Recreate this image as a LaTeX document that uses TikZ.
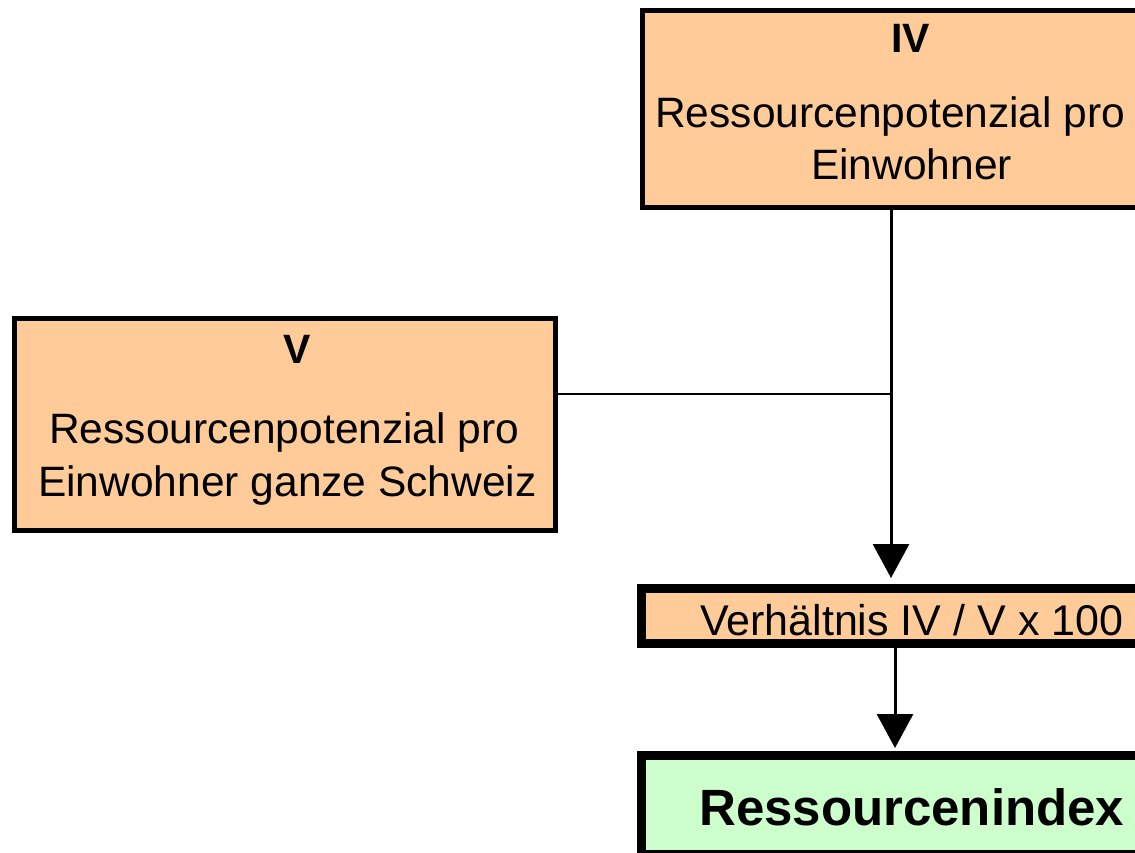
\documentclass[tikz,border=0pt]{standalone}
\usepackage{fontspec}
\setmainfont{Liberation Sans}
\usetikzlibrary{arrows.meta}
\definecolor{boxorange}{HTML}{FFCC99}
\definecolor{boxgreen}{HTML}{CCFFCC}
\tikzset{
  thinbox/.style={draw=black, fill=boxorange, line width=5pt, inner sep=0pt, outer sep=0pt, rectangle},
  thickbox/.style={draw=black, line width=9pt, inner sep=0pt, outer sep=0pt, rectangle},
  normtext/.style={anchor=base west, inner sep=0pt, font=\fontsize{42.5}{50}\selectfont},
  headtext/.style={anchor=base west, inner sep=0pt, font=\fontsize{41}{48}\selectfont\bfseries},
  conn/.style={line width=3pt},
  arrowconn/.style={line width=3pt, -{Triangle[width=36pt,length=34pt]}}
}
\begin{document}
\begin{tikzpicture}[x=1pt,y=-1pt]
\clip (0,0) rectangle (1135,853);
\fill[white] (0,0) rectangle (1135,853);
% boxes
\node[thinbox, minimum width=537.5pt, minimum height=197pt] (iv) at (911.25,109) {};
\node[thinbox, minimum width=541pt, minimum height=212pt] (v) at (285,424.5) {};
\node[thickbox, fill=boxorange, minimum width=538.5pt, minimum height=55pt] (verh) at (910.75,616) {};
\node[thickbox, fill=boxgreen, minimum width=538.5pt, minimum height=99pt] (res) at (910.75,805) {};
% texts
\node[headtext] (ivh) at (891,53) {IV};
\node[normtext] (ivl1) at (655,128) {Ressourcenpotenzial pro};
\node[normtext] (ivl2) at (811,180) {Einwohner};
\node[headtext] (vh) at (283,363) {V};
\node[normtext] (vl1) at (49,443) {Ressourcenpotenzial pro};
\node[normtext] (vl2) at (38,496) {Einwohner ganze Schweiz};
\node[normtext, font=\fontsize{43}{50}\selectfont] (verht) at (700,635) {Verhältnis IV / V x 100};
\node[anchor=base west, inner sep=0pt, font=\fontsize{51}{60}\selectfont\bfseries] (rest) at (699,825) {Ressourcenindex};
% connectors
\coordinate (j) at (891,394);
\coordinate (k) at (895,700);
\draw[arrowconn, shorten >=10.5pt] (j |- iv.south) -- (j |- verh.north);
\draw[conn, line width=2.5pt] (v.east |- j) -- (j);
\draw[arrowconn, shorten >=7.5pt] (k |- verh.south) -- (k |- res.north);
\end{tikzpicture}
\end{document}
